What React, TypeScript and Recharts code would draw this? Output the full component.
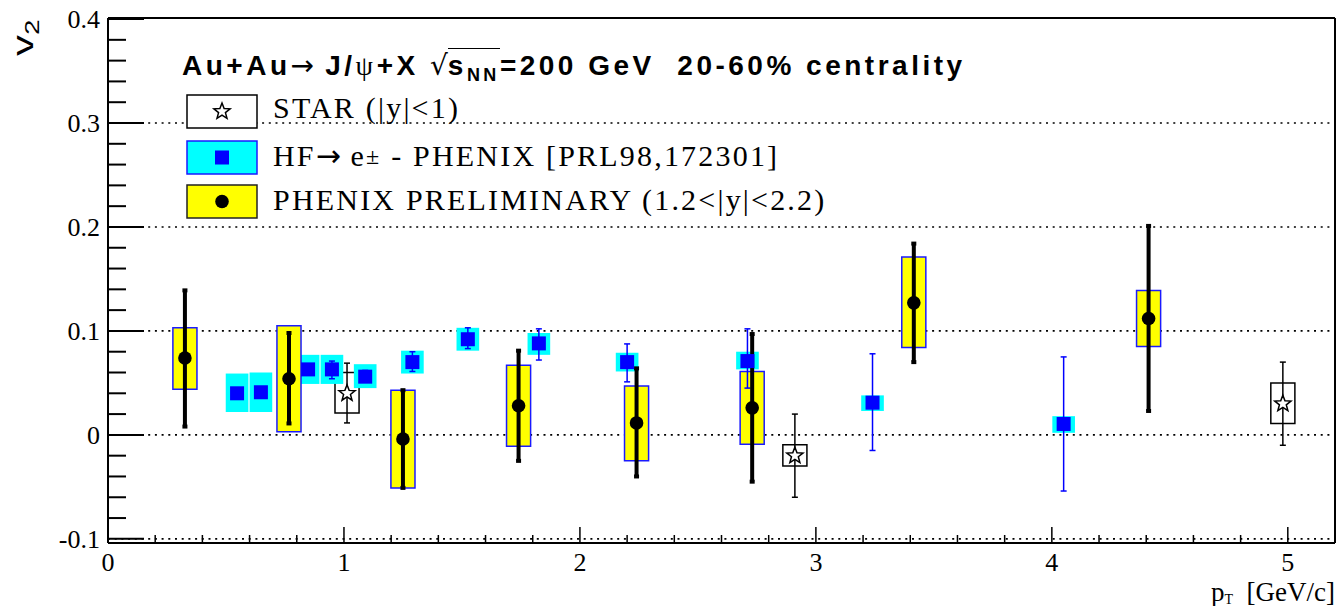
import {
  ComposedChart, Scatter, ErrorBar, XAxis, YAxis,
  CartesianGrid, ReferenceArea, ReferenceLine
} from 'recharts'

// PHENIX preliminary J/psi (yellow boxes = syst., thick bars = stat.)
const phenixPt = [0.326, 0.767, 1.25, 1.74, 2.24, 2.73, 3.415, 4.41]
const phenixV2 = [0.074, 0.054, -0.004, 0.028, 0.0115, 0.026, 0.127, 0.112]
const phenixStatLo = [0.008, 0.011, -0.051, -0.025, -0.04, -0.045, 0.07, 0.023]
const phenixStatHi = [0.139, 0.098, 0.043, 0.081, 0.064, 0.097, 0.184, 0.201]
const phenixSysLo = [0.044, 0.003, -0.051, -0.011, -0.025, -0.009, 0.084, 0.085]
const phenixSysHi = [0.103, 0.105, 0.043, 0.067, 0.047, 0.061, 0.171, 0.139]

// HF -> e PHENIX
const hfPt = [0.547, 0.648, 0.848, 0.949, 1.09, 1.29, 1.525, 1.826, 2.2, 2.71, 3.24, 4.05]
const hfV2 = [0.04, 0.041, 0.063, 0.063, 0.056, 0.07, 0.092, 0.088, 0.07, 0.071, 0.031, 0.0105]
const hfStatLo = [0.036, 0.037, 0.058, 0.054, 0.051, 0.061, 0.083, 0.072, 0.051, 0.045, -0.015, -0.054]
const hfStatHi = [0.044, 0.045, 0.068, 0.071, 0.062, 0.08, 0.103, 0.102, 0.0875, 0.102, 0.078, 0.075]
const hfSysLo = [0.022, 0.022, 0.049, 0.049, 0.045, 0.059, 0.081, 0.077, 0.061, 0.063, 0.023, 0.002]
const hfSysHi = [0.059, 0.06, 0.077, 0.077, 0.068, 0.081, 0.103, 0.098, 0.079, 0.08, 0.038, 0.018]

// STAR |y|<1
const starPt = [1.013, 2.911, 4.979]
const starV2 = [0.04, -0.02, 0.03]
const starStatLo = [0.0115, -0.06, -0.01]
const starStatHi = [0.069, 0.02, 0.07]
const starSysLo = [0.021, -0.03, 0.011]
const starSysHi = [0.06, -0.0095, 0.05]

const xTicks = [0, 0.2, 0.4, 0.6, 0.8, 1, 1.2, 1.4, 1.6, 1.8, 2, 2.2, 2.4, 2.6, 2.8,
  3, 3.2, 3.4, 3.6, 3.8, 4, 4.2, 4.4, 4.6, 4.8, 5]
const yTicks = [-0.1, -0.08, -0.06, -0.04, -0.02, 0, 0.02, 0.04, 0.06, 0.08, 0.1,
  0.12, 0.14, 0.16, 0.18, 0.2, 0.22, 0.24, 0.26, 0.28, 0.3, 0.32, 0.34, 0.36, 0.38, 0.4]
const yGrid = [-0.1, 0, 0.1, 0.2, 0.3]

const X_MAX = 5.2
const Y_MIN = -0.104
const Y_MAX = 0.401
const BOX_HALF = 0.051
const HF_BOX_HALF = 0.048

const build = (pt: number[], v2: number[], lo: number[], hi: number[]) =>
  pt.map((x, i) => ({ x, y: v2[i], err: [v2[i] - lo[i], hi[i] - v2[i]] }))

const phenixData = build(phenixPt, phenixV2, phenixStatLo, phenixStatHi)
const hfData = build(hfPt, hfV2, hfStatLo, hfStatHi)
const starData = build(starPt, starV2, starStatLo, starStatHi)

const serif = 'Liberation Serif, Times New Roman, serif'
const sans = 'Liberation Sans, Arial, sans-serif'
const arrowFont = 'DejaVu Sans, sans-serif'

const isWhole = (v: number) => Math.abs(v - Math.round(v)) < 1e-6

function starPoints(cx: number, cy: number, ro: number, ri: number) {
  const pts: string[] = []
  for (let k = 0; k < 10; k++) {
    const r = k % 2 === 0 ? ro : ri
    const a = -Math.PI / 2 + (k * Math.PI) / 5
    pts.push(`${cx + r * Math.cos(a)},${cy + r * Math.sin(a)}`)
  }
  return pts.join(' ')
}

const StarShape = (p: any) => (
  <polygon points={starPoints(p.cx, p.cy, 8.5, 3.6)} fill="#fff" stroke="#000" strokeWidth={1.5} />
)
const SquareShape = (p: any) => (
  <rect x={p.cx - 7} y={p.cy - 7} width={14} height={14} fill="#0000ff" />
)
const CircleShape = (p: any) => <circle cx={p.cx} cy={p.cy} r={6.8} fill="#000" />

function YTick(props: any) {
  const { x, y, payload } = props
  const v = payload.value
  const major = isWhole(v * 10)
  return (
    <g>
      <line x1={x} y1={y} x2={x + (major ? 36 : 18)} y2={y} stroke="#000" strokeWidth={2} />
      {major && (
        <text x={x - 8} y={y + 9} textAnchor="end" fontFamily={serif} fontSize={26} fill="#000">
          {v === 0 ? '0' : String(v)}
        </text>
      )}
    </g>
  )
}

function XTick(props: any) {
  const { x, y, payload } = props
  const v = payload.value
  const major = isWhole(v)
  return (
    <g>
      <line x1={x} y1={y} x2={x} y2={y - (major ? 16 : 8)} stroke="#000" strokeWidth={1.5} />
      {major && (
        <text x={x} y={y + 28} textAnchor="middle" fontFamily={serif} fontSize={26} fill="#000">
          {String(v)}
        </text>
      )}
    </g>
  )
}

const legendText: React.CSSProperties = {
  position: 'absolute', left: 273, fontFamily: serif, fontSize: 30,
  lineHeight: '30px', letterSpacing: 2.2, whiteSpace: 'pre', color: '#000',
}

function Swatch({ top, fill, stroke, children }: any) {
  return (
    <svg style={{ position: 'absolute', left: 186, top }} width={72} height={35}>
      <rect x={1} y={1} width={70} height={33} fill={fill} stroke={stroke} strokeWidth={1.5} />
      {children}
    </svg>
  )
}

export default function App() {
  return (
    <div style={{ position: 'absolute', left: 0, top: 0, width: 1338, height: 606, background: '#fff' }}>
      <ComposedChart width={1338} height={606} margin={{ top: 18, right: 3, bottom: 0, left: 0 }}>
        <CartesianGrid vertical={false} horizontalValues={yGrid}
          stroke="#000" strokeWidth={1.6} strokeDasharray="2 4.7" />
        <XAxis type="number" dataKey="x" domain={[0, X_MAX]} ticks={xTicks} interval={0}
          allowDataOverflow tick={<XTick />} tickLine={false} tickSize={0} tickMargin={0}
          height={63} axisLine={{ stroke: '#000', strokeWidth: 2 }} />
        <YAxis type="number" dataKey="y" domain={[Y_MIN, Y_MAX]} ticks={yTicks} interval={0}
          allowDataOverflow tick={<YTick />} tickLine={false} tickSize={0} tickMargin={0}
          width={108} axisLine={{ stroke: '#000', strokeWidth: 2 }} />
        <ReferenceLine y={Y_MAX} stroke="#000" strokeWidth={2} />
        <ReferenceLine x={X_MAX} stroke="#000" strokeWidth={2} />

        {/* systematic boxes */}
        {starPt.map((x, i) => (
          <ReferenceArea key={'sb' + i} x1={x - BOX_HALF} x2={x + BOX_HALF} y1={starSysLo[i]} y2={starSysHi[i]}
            fill="none" fillOpacity={0} stroke="#000" strokeWidth={1.5} />
        ))}
        {hfPt.map((x, i) => (
          <ReferenceArea key={'hb' + i} x1={x - HF_BOX_HALF} x2={x + HF_BOX_HALF} y1={hfSysLo[i]} y2={hfSysHi[i]}
            fill="#00ffff" fillOpacity={1} stroke="none" />
        ))}
        {phenixPt.map((x, i) => (
          <ReferenceArea key={'pb' + i} x1={x - BOX_HALF} x2={x + BOX_HALF} y1={phenixSysLo[i]} y2={phenixSysHi[i]}
            fill="#ffff00" fillOpacity={1} stroke="#1a1aff" strokeWidth={1.5} />
        ))}

        <Scatter data={starData} dataKey="y" shape={StarShape} isAnimationActive={false}>
          <ErrorBar dataKey="err" direction="y" width={3} stroke="#000" strokeWidth={1.5} isAnimationActive={false} />
        </Scatter>
        <Scatter data={hfData} dataKey="y" shape={SquareShape} isAnimationActive={false}>
          <ErrorBar dataKey="err" direction="y" width={3} stroke="#0000ff" strokeWidth={1.5} isAnimationActive={false} />
        </Scatter>
        <Scatter data={phenixData} dataKey="y" shape={CircleShape} isAnimationActive={false}>
          <ErrorBar dataKey="err" direction="y" width={2.5} stroke="#000" strokeWidth={4} isAnimationActive={false} />
        </Scatter>
      </ComposedChart>

      {/* axis titles */}
      <svg style={{ position: 'absolute', left: 0, top: 0, pointerEvents: 'none' }} width={1338} height={606}>
        <text transform="translate(33,56) rotate(-90) scale(1.4,1)" fontFamily={sans} fontSize={30} fill="#000">
          v<tspan dy={6} fontSize={20}>2</tspan>
        </text>
        <text x={1335} y={601} textAnchor="end" fontFamily={serif} fontSize={27} fill="#000">
          p<tspan dy={3} fontSize={14}>T</tspan><tspan dy={-3} xmlSpace="preserve">  [GeV/c]</tspan>
        </text>
      </svg>

      {/* title */}
      <div style={{
        position: 'absolute', left: 182, top: 52, fontFamily: sans, fontWeight: 700, fontSize: 28,
        lineHeight: '28px', letterSpacing: 3.5, whiteSpace: 'pre', color: '#000',
      }}>
        Au+Au<span style={{ fontFamily: arrowFont, fontWeight: 400, letterSpacing: 0 }}>→</span> J/<span style={{ fontFamily: serif, fontWeight: 400 }}>ψ</span>+X <span style={{ fontFamily: arrowFont, fontWeight: 400, letterSpacing: 0 }}>√</span><span style={{ borderTop: '1.5px solid #000', paddingTop: 1 }}>s<span style={{ fontSize: 18, verticalAlign: -6 }}>NN</span></span>=200 GeV  20-60% centrality
      </div>

      {/* legend */}
      <Swatch top={94} fill="#fff" stroke="#000">
        <polygon points={starPoints(36, 17.5, 8.5, 3.6)} fill="#fff" stroke="#000" strokeWidth={1.5} />
      </Swatch>
      <div style={{ ...legendText, top: 93 }}>STAR (|y|&lt;1)</div>

      <Swatch top={140} fill="#00ffff" stroke="#1a1aff">
        <rect x={29} y={10.5} width={14} height={14} fill="#0000ff" />
      </Swatch>
      <div style={{ ...legendText, top: 141 }}>
        HF<span style={{ fontFamily: arrowFont, letterSpacing: 0 }}>→</span> e<span style={{ fontSize: 24, verticalAlign: 2 }}>±</span> - PHENIX [PRL98,172301]
      </div>

      <Swatch top={184} fill="#ffff00" stroke="#222">
        <circle cx={36} cy={17.5} r={6.8} fill="#000" />
      </Swatch>
      <div style={{ ...legendText, top: 185 }}>PHENIX PRELIMINARY (1.2&lt;|y|&lt;2.2)</div>
    </div>
  )
}
